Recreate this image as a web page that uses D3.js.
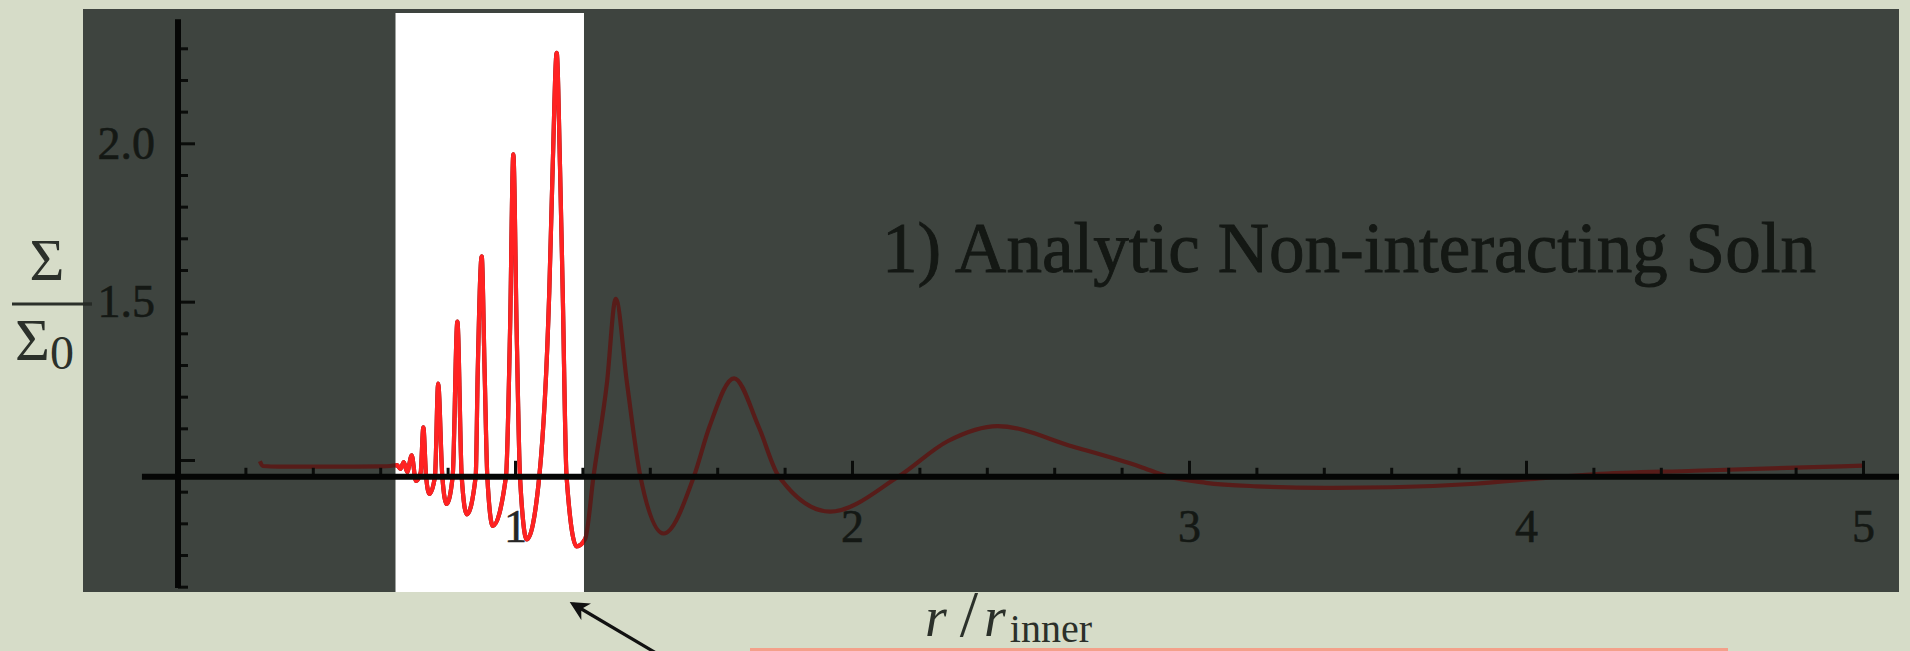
<!DOCTYPE html>
<html>
<head>
<meta charset="utf-8">
<script src="https://cdn.jsdelivr.net/npm/d3@7"></script>
<style>
  html, body { margin: 0; padding: 0; overflow: hidden; background: #d6dcc8; }
  svg { display: block; }
</style>
</head>
<body>
<svg></svg>
<script>
// radius in units of r_inner, and surface density Sigma/Sigma_0
const rValues = [0.243, 0.252, 0.30, 0.40, 0.50, 0.60, 0.63, 0.650, 0.660, 0.670, 0.680,
    0.6935, 0.706, 0.720, 0.728, 0.736, 0.746, 0.7626, 0.772, 0.7843, 0.797,
    0.8151, 0.829, 0.8418, 0.857, 0.8834, 0.8893, 0.9012, 0.910, 0.9178, 0.934,
    0.9733, 0.9852, 0.995, 1.005, 1.0148, 1.035, 1.0721, 1.1018, 1.1119, 1.1237,
    1.1335, 1.1415, 1.153, 1.183, 1.208, 1.233, 1.2727, 1.299, 1.3324, 1.372,
    1.441, 1.531, 1.577, 1.650, 1.723, 1.7825, 1.935, 2.139, 2.285, 2.432,
    2.657, 2.855, 2.935, 3.05, 3.2, 3.4, 3.6, 3.85, 4.05, 4.2, 4.5, 4.8, 5.0]
const sigmaValues = [0.996, 0.981, 0.979, 0.979, 0.979, 0.980, 0.981, 0.984, 0.972, 0.993, 0.962,
    1.015, 0.934, 0.960, 1.103, 0.950, 0.893, 0.9485, 1.241, 0.9485, 0.861,
    0.9485, 1.437, 0.9485, 0.828, 0.9485, 1.273, 1.643, 1.273, 0.9485, 0.792,
    0.9485, 1.404, 1.965, 1.404, 0.9485, 0.749, 0.9485, 1.535, 1.928, 2.286,
    1.928, 1.535, 0.9485, 0.727, 0.750, 0.9485, 1.242, 1.509, 1.242, 0.9485,
    0.768, 0.9485, 1.105, 1.258, 1.105, 0.9485, 0.837, 0.9485, 1.060, 1.107,
    1.042, 0.979, 0.9485, 0.928, 0.917, 0.912, 0.914, 0.925, 0.943, 0.955, 0.966, 0.976, 0.982]

const xMajorTicks = [1, 2, 3, 4, 5]
const xMinorTicks = [0.2, 0.4, 0.6, 0.8, 1.2, 1.4, 1.6, 1.8, 2.2, 2.4, 2.6, 2.8,
    3.2, 3.4, 3.6, 3.8, 4.2, 4.4, 4.6, 4.8]
const yMajorTicks = [1.0, 1.5, 2.0]
const yLabels = [1.5, 2.0]
const yMinorTicks = [0.6, 0.7, 0.8, 0.9, 1.1, 1.2, 1.3, 1.4, 1.6, 1.7, 1.8, 1.9, 2.1, 2.2, 2.3]

// highlighted r window (the part left uncovered on the slide)
const windowR = [0.6454, 1.2047]
const axisOrigin = 0.947
const xAxisSpan = [-0.107, 5.1068]
const yAxisSpan = [0.596, 2.392]

const titleText = "1) Analytic Non-interacting Soln"

const width = 1910
const height = 651

let svg = d3.select("svg")
    .attr('width', width)
    .attr('height', height)

const x = d3.scaleLinear().domain([-0.2819, 5.1068]).range([83, 1899])
const y = d3.scaleLinear().domain([0.5832, 2.4241]).range([592, 9])

const serif = "'Liberation Serif', 'Times New Roman', serif"
const darkText = "#141814"

// dark covered panel
svg.append("rect")
    .attr("x", x.range()[0])
    .attr("y", y.range()[1])
    .attr("width", x.range()[1] - x.range()[0])
    .attr("height", y.range()[0] - y.range()[1])
    .attr("fill", "#3e443f")

// the uncovered window
svg.append("rect")
    .attr("x", x(windowR[0]))
    .attr("y", y.range()[1] + 4)
    .attr("width", x(windowR[1]) - x(windowR[0]))
    .attr("height", y.range()[0] - y.range()[1] - 4)
    .attr("fill", "#ffffff")

svg.append("clipPath").attr("id", "win")
  .append("rect")
    .attr("x", x(windowR[0]))
    .attr("y", 0)
    .attr("width", x(windowR[1]) - x(windowR[0]))
    .attr("height", y.range()[0])

// title
svg.append("text")
    .attr("x", 882)
    .attr("y", 272)
    .attr("font-family", serif)
    .attr("font-size", 71)
    .attr("textLength", 934)
    .attr("lengthAdjust", "spacingAndGlyphs")
    .attr("fill", darkText)
    .attr("stroke", darkText)
    .attr("stroke-width", 0.9)
    .text(titleText)

// curve
const points = rValues.map((r, i) => [r, sigmaValues[i]])
const line = d3.line()
    .x(d => x(d[0]))
    .y(d => y(d[1]))
    .curve(d3.curveMonotoneX)

svg.append("path")
    .attr("d", line(points))
    .attr("fill", "none")
    .attr("stroke", "#571c19")
    .attr("stroke-width", 4.2)
    .attr("stroke-linejoin", "round")

svg.append("path")
    .attr("d", line(points))
    .attr("clip-path", "url(#win)")
    .attr("fill", "none")
    .attr("stroke", "#ff2222")
    .attr("stroke-width", 4.2)
    .attr("stroke-linejoin", "round")

// x axis: ticks point up, labels below
let gx = svg.append("g").attr("transform", `translate(0,${y(axisOrigin)})`)
gx.append("g")
    .call(d3.axisBottom(x).tickValues(xMinorTicks).tickSize(-9).tickSizeOuter(0).tickFormat(""))
gx.append("g")
    .call(d3.axisBottom(x).tickValues(xMajorTicks).tickSize(-16).tickSizeOuter(0).tickPadding(33)
        .tickFormat(d3.format("d")))
gx.selectAll(".domain").remove()
gx.selectAll("line").attr("stroke", "#0a0c0a").attr("stroke-width", 3)
gx.selectAll("text")
    .attr("font-family", serif)
    .attr("font-size", 46)
    .attr("fill", d => (d > windowR[0] && d < windowR[1]) ? "#262626" : darkText)
    .attr("stroke", d => (d > windowR[0] && d < windowR[1]) ? "#262626" : darkText)
    .attr("stroke-width", 0.6)

gx.append("line")
    .attr("x1", x(xAxisSpan[0]))
    .attr("x2", x(xAxisSpan[1]))
    .attr("stroke", "#050605")
    .attr("stroke-width", 6)

// y axis: ticks point right, labels left
let gy = svg.append("g").attr("transform", `translate(${x(0)},0)`)
gy.append("g")
    .call(d3.axisLeft(y).tickValues(yMinorTicks).tickSize(-10).tickSizeOuter(0).tickFormat(""))
gy.append("g")
    .call(d3.axisLeft(y).tickValues(yMajorTicks).tickSize(-17).tickSizeOuter(0).tickPadding(23)
        .tickFormat(d => yLabels.includes(d) ? d3.format(".1f")(d) : ""))
gy.selectAll(".domain").remove()
gy.selectAll("line").attr("stroke", "#0a0c0a").attr("stroke-width", 3)
gy.selectAll("text")
    .attr("font-family", serif)
    .attr("font-size", 46)
    .attr("fill", darkText)
    .attr("stroke", darkText)
    .attr("stroke-width", 0.6)

gy.append("line")
    .attr("y1", y(yAxisSpan[0]))
    .attr("y2", y(yAxisSpan[1]))
    .attr("stroke", "#050605")
    .attr("stroke-width", 6)

// y label  Sigma / Sigma_0
const labelInk = "#2b302a"
svg.append("text")
    .attr("x", 47).attr("y", 280)
    .attr("text-anchor", "middle")
    .attr("font-family", serif).attr("font-size", 60)
    .attr("fill", labelInk)
    .text("Σ")
svg.append("line")
    .attr("x1", 12).attr("x2", 92)
    .attr("y1", 304).attr("y2", 304)
    .attr("stroke", labelInk)
    .attr("stroke-width", 3)
svg.append("line")
    .attr("x1", 83).attr("x2", 92)
    .attr("y1", 304).attr("y2", 304)
    .attr("stroke", "#262a26")
    .attr("stroke-width", 3)
let sub = svg.append("text")
    .attr("x", 15).attr("y", 360)
    .attr("font-family", serif).attr("font-size", 60)
    .attr("fill", labelInk)
sub.append("tspan").text("Σ")
sub.append("tspan").attr("font-size", 48).attr("dy", 9).text("0")

// x label  r / r_inner
svg.append("text")
    .attr("x", 925).attr("y", 636)
    .attr("font-family", serif).attr("font-size", 56)
    .attr("font-style", "italic")
    .attr("fill", labelInk)
    .text("r")
svg.append("text")
    .attr("x", 969).attr("y", 636)
    .attr("text-anchor", "middle")
    .attr("font-family", serif).attr("font-size", 66)
    .attr("fill", labelInk)
    .text("/")
let xl = svg.append("text")
    .attr("x", 984).attr("y", 636)
    .attr("font-family", serif).attr("font-size", 56)
    .attr("fill", labelInk)
xl.append("tspan").attr("font-style", "italic").text("r")
xl.append("tspan").attr("font-size", 40).attr("dy", 6).attr("dx", 4).text("inner")

// arrow pointing at the window edge
svg.append("defs").append("marker")
    .attr("id", "head")
    .attr("viewBox", "0 0 10 10")
    .attr("refX", 8).attr("refY", 5)
    .attr("markerWidth", 6).attr("markerHeight", 6)
    .attr("orient", "auto")
  .append("path")
    .attr("d", "M0,0 L10,5 L0,10 L3,5 Z")
    .attr("fill", "#111")
svg.append("line")
    .attr("x1", 656).attr("y1", 653)
    .attr("x2", 573).attr("y2", 604)
    .attr("stroke", "#111")
    .attr("stroke-width", 3.2)
    .attr("marker-end", "url(#head)")

// top edge of the salmon box below
svg.append("rect")
    .attr("x", 750).attr("y", 648)
    .attr("width", 978).attr("height", 4)
    .attr("fill", "#f4a08a")
</script>
</body>
</html>
